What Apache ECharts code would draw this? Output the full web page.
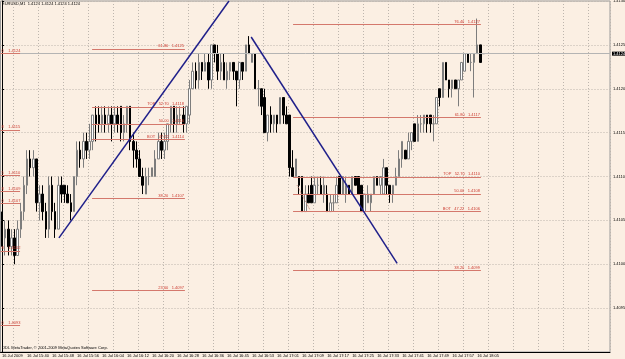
<!DOCTYPE html>
<html>
<head>
<meta charset="utf-8">
<script src="https://cdn.jsdelivr.net/npm/echarts@6/dist/echarts.min.js"></script>
<style>
html, body { margin: 0; padding: 0; background: #fbefe3; }
#chart { width: 625px; height: 359px; }
</style>
</head>
<body>
<div id="chart"></div>
<script>
// EURUSD M1, 16 Jul 2009 -- each bar is [open, close, low, high]
var bars = [
  [1.4105,1.4103,1.4102,1.4106],[1.4103,1.4104,1.4101,1.4105],[1.4104,1.4102,1.4101,1.4105],[1.4102,1.4103,1.4101,1.4104],
  [1.4103,1.4101,1.4100,1.4104],[1.4101,1.4104,1.4101,1.4105],[1.4104,1.4106,1.4103,1.4107],[1.4106,1.4109,1.4105,1.4110],
  [1.4109,1.4112,1.4108,1.4113],[1.4112,1.4111,1.4110,1.4113],[1.4111,1.4112,1.4110,1.4113],[1.4112,1.4107,1.4106,1.4112],
  [1.4107,1.4108,1.4105,1.4109],[1.4108,1.4106,1.4105,1.4109],[1.4106,1.4104,1.4103,1.4107],[1.4104,1.4109,1.4103,1.4110],
  [1.4109,1.4106,1.4105,1.4110],[1.4106,1.4104,1.4103,1.4107],[1.4104,1.4109,1.4104,1.4110],[1.4109,1.4108,1.4107,1.4110],
  [1.4109,1.4108,1.4107,1.4109],[1.4108,1.4107,1.4107,1.4109],[1.4107,1.4106,1.4105,1.4108],[1.4106,1.4110,1.4106,1.4110],
  [1.4110,1.4113,1.4109,1.4114],[1.4113,1.4112,1.4111,1.4114],[1.4112,1.4114,1.4111,1.4115],[1.4114,1.4113,1.4112,1.4115],
  [1.4113,1.4114,1.4112,1.4116],[1.4114,1.4117,1.4113,1.4117],[1.4117,1.4116,1.4114,1.4118],[1.4117,1.4116,1.4115,1.4118],
  [1.4116,1.4117,1.4115,1.4118],[1.4117,1.4116,1.4115,1.4118],[1.4116,1.4117,1.4115,1.4118],[1.4117,1.4116,1.4114,1.4118],
  [1.4116,1.4117,1.4115,1.4118],[1.4117,1.4116,1.4115,1.4118],[1.4118,1.4115,1.4114,1.4118],[1.4115,1.4116,1.4114,1.4117],
  [1.4116,1.4118,1.4115,1.4118],[1.4118,1.4114,1.4113,1.4118],[1.4114,1.4113,1.4111,1.4115],[1.4113,1.4112,1.4111,1.4114],
  [1.4112,1.4110,1.4110,1.4113],[1.4110,1.4109,1.4108,1.4111],[1.4108,1.4110,1.4108,1.4111],[1.4110,1.4110,1.4109,1.4111],
  [1.4110,1.4111,1.4110,1.4111],[1.4110,1.4112,1.4110,1.4113],[1.4112,1.4114,1.4112,1.4115],[1.4114,1.4113,1.4112,1.4115],
  [1.4113,1.4114,1.4112,1.4115],[1.4114,1.4116,1.4113,1.4116],[1.4116,1.4118,1.4115,1.4118],[1.4118,1.4116,1.4115,1.4118],
  [1.4116,1.4117,1.4115,1.4118],[1.4117,1.4117,1.4116,1.4118],[1.4117,1.4116,1.4115,1.4118],[1.4116,1.4118,1.4115,1.4118],
  [1.4117,1.4120,1.4116,1.4121],[1.4120,1.4122,1.4120,1.4123],[1.4122,1.4121,1.4120,1.4123],[1.4121,1.4123,1.4120,1.4124],
  [1.4123,1.4122,1.4121,1.4123],[1.4122,1.4123,1.4122,1.4124],[1.4123,1.4121,1.4120,1.4124],[1.4121,1.4125,1.4120,1.4125],
  [1.4125,1.4124,1.4123,1.4125],[1.4124,1.4122,1.4121,1.4125],[1.4122,1.4123,1.4121,1.4124],[1.4123,1.4121,1.4121,1.4124],
  [1.4121,1.4122,1.4120,1.4123],[1.4122,1.4123,1.4121,1.4123],[1.4123,1.4122,1.4121,1.4123],[1.4122,1.4121,1.4118,1.4122],
  [1.4121,1.4123,1.4120,1.4123],[1.4123,1.4122,1.4121,1.4123],[1.4122,1.4125,1.4122,1.4125],[1.4125,1.4124,1.4124,1.4126],
  [1.4123,1.4124,1.4123,1.4124],[1.4124,1.4120,1.4120,1.4124],[1.4120,1.4120,1.4118,1.4121],[1.4120,1.4118,1.4117,1.4120],
  [1.4119,1.4115,1.4115,1.4120],[1.4115,1.4117,1.4114,1.4117],[1.4117,1.4116,1.4115,1.4118],[1.4116,1.4117,1.4115,1.4117],
  [1.4117,1.4116,1.4115,1.4117],[1.4116,1.4119,1.4116,1.4119],[1.4119,1.4117,1.4116,1.4119],[1.4117,1.4116,1.4116,1.4118],
  [1.4117,1.4111,1.4110,1.4117],[1.4111,1.4110,1.4110,1.4113],[1.4110,1.4112,1.4110,1.4112],[1.4110,1.4109,1.4108,1.4110],
  [1.4110,1.4106,1.4106,1.4110],[1.4106,1.4108,1.4106,1.4109],[1.4108,1.4107,1.4107,1.4109],[1.4109,1.4107,1.4107,1.4110],
  [1.4107,1.4109,1.4107,1.4110],[1.4109,1.4109,1.4108,1.4110],[1.4109,1.4108,1.4108,1.4110],[1.4108,1.4109,1.4107,1.4110],
  [1.4108,1.4106,1.4106,1.4109],[1.4106,1.4107,1.4106,1.4108],[1.4107,1.4107,1.4106,1.4108],[1.4107,1.4109,1.4107,1.4110],
  [1.4110,1.4108,1.4108,1.4110],[1.4108,1.4110,1.4108,1.4110],[1.4108,1.4109,1.4107,1.4110],[1.4109,1.4108,1.4108,1.4109],
  [1.4108,1.4110,1.4108,1.4110],[1.4110,1.4109,1.4109,1.4110],[1.4110,1.4108,1.4108,1.4110],[1.4109,1.4106,1.4106,1.4109],
  [1.4106,1.4108,1.4106,1.4108],[1.4107,1.4108,1.4107,1.4109],[1.4107,1.4108,1.4106,1.4108],[1.4108,1.4110,1.4108,1.4110],
  [1.4110,1.4109,1.4109,1.4110],[1.4109,1.4110,1.4108,1.4110],[1.4108,1.4111,1.4108,1.4112],[1.4111,1.4109,1.4108,1.4111],
  [1.4109,1.4108,1.4107,1.4109],[1.4108,1.4109,1.4107,1.4109],[1.4109,1.4110,1.4109,1.4111],[1.4110,1.4112,1.4110,1.4113],
  [1.4112,1.4114,1.4111,1.4114],[1.4113,1.4112,1.4112,1.4113],[1.4112,1.4114,1.4112,1.4115],[1.4114,1.4115,1.4113,1.4115],
  [1.4116,1.4114,1.4114,1.4116],[1.4114,1.4116,1.4114,1.4117],[1.4116,1.4116,1.4115,1.4117],[1.4116,1.4117,1.4115,1.4117],
  [1.4117,1.4116,1.4115,1.4117],[1.4117,1.4116,1.4115,1.4117],[1.4116,1.4116,1.4114,1.4117],[1.4116,1.4119,1.4116,1.4119],
  [1.4120,1.4119,1.4118,1.4120],[1.4119,1.4123,1.4119,1.4123],[1.4123,1.4121,1.4121,1.4123],[1.4121,1.4120,1.4119,1.4121],
  [1.4120,1.4121,1.4119,1.4121],[1.4121,1.4120,1.4120,1.4121],[1.4120,1.4121,1.4118,1.4121],[1.4121,1.4123,1.4121,1.4123],
  [1.4122,1.4124,1.4122,1.4124],[1.4124,1.4123,1.4123,1.4124],[1.4123,1.4123,1.4122,1.4124],[1.4123,1.4124,1.4119,1.4124],
  [1.4124,1.4125,1.4124,1.4128],[1.4125,1.4123,1.4123,1.4125],[1.4124,1.4124,1.4124,1.4124]
];

// one label every 8 bars
var tickLabels = ["16 Jul 2009", "16 Jul 15:40", "16 Jul 15:48", "16 Jul 15:56", "16 Jul 16:04",
  "16 Jul 16:12", "16 Jul 16:20", "16 Jul 16:28", "16 Jul 16:36", "16 Jul 16:45", "16 Jul 16:53",
  "16 Jul 17:01", "16 Jul 17:09", "16 Jul 17:17", "16 Jul 17:25", "16 Jul 17:33", "16 Jul 17:41",
  "16 Jul 17:49", "16 Jul 17:57", "16 Jul 18:05"];

var slots = 195;          // bars + empty room on the right
var lastPrice = 1.4124;

// trend lines: [bar position, price] pairs
var trendUp = [[18.2, 1.4103], [72.6, 1.4130]];
var trendDown = [[79.7, 1.41259], [126.4, 1.41001]];
var fiboDiag = [[94.4, 1.41090], [98.5, 1.41062]];

// fibonacci levels: [price, text]
var fiboLeft = [[1.41240, "0    1.4124"], [1.41153, "8    1.4115"], [1.41101, "5    1.4110"],
  [1.41083, "8    1.4109"], [1.41069, "0    1.4107"], [1.41015, "8    1.4102"], [1.40930, "0    1.4093"]];
var fiboLeftSpan = [-0.5, 5.75];
var fiboMid = [[1.41245, "61.80   1.4125"], [1.41179, "TOP   52.70   1.4118"], [1.41160, "50.00   1.4116"],
  [1.41142, "BOT   47.22   1.4114"], [1.41075, "38.20   1.4107"], [1.40970, "23.60   1.4097"]];
var fiboMidSpan = [28.8, 58.5];
var fiboRight = [[1.41273, "76.40   1.4127"], [1.41167, "61.80   1.4117"], [1.41099, "TOP   52.70   1.4110"],
  [1.41080, "50.00   1.4108"], [1.41060, "BOT   47.22   1.4106"], [1.40993, "38.20   1.4099"]];
var fiboRightSpan = [93.1, 153.2];

var FONT = "Liberation Sans";
var slotIdx = [];
for (var i = 0; i < slots; i++) slotIdx.push(i);

function fiboSeries(levels, span, pos) {
  return {
    type: "line",
    xAxisIndex: 1,
    data: [],
    silent: true,
    markLine: {
      silent: true,
      animation: false,
      precision: 5,
      symbol: ["none", "none"],
      lineStyle: { color: "#d4786c", width: 1, type: "solid" },
      label: { show: true, position: pos, fontSize: 4, fontFamily: FONT, color: "#cc3b30", distance: 1 },
      data: levels.map(function (l) {
        return [{ coord: [span[0], l[0]], label: { formatter: l[1] } }, { coord: [span[1], l[0]] }];
      })
    }
  };
}

function trendSeries(pts, color, width, type) {
  return {
    type: "line",
    xAxisIndex: 1,
    data: pts,
    symbol: "none",
    silent: true,
    z: 5,
    lineStyle: { color: color, width: width, type: type }
  };
}

var chart = echarts.init(document.getElementById("chart"));
var option = {
  backgroundColor: "#fbefe3",
  animation: false,
  textStyle: { fontFamily: FONT },
  grid: {
    left: 0.5, right: 15, top: 1, bottom: 7,
    show: true, borderColor: "#9a9a9a", borderWidth: 1,
    containLabel: false, outerBoundsMode: "none"
  },
  graphic: [
    { type: "text", left: 2, top: 2, style: { text: "EURUSD,M1  1.4124 1.4124 1.4124 1.4124", fontSize: 4, fontFamily: FONT, fill: "#000" } },
    { type: "text", left: 2, top: 346, style: { text: "ODL MetaTrader, \u00a9 2001-2009 MetaQuotes Software Corp.", fontSize: 4, fontFamily: FONT, fill: "#000" } }
  ],
  xAxis: [
    {
      type: "category",
      data: slotIdx,
      boundaryGap: true,
      axisLine: { show: true, lineStyle: { color: "#000", width: 1 } },
      axisTick: { show: false },
      axisLabel: {
        interval: function (i) { return i % 8 === 0 && i / 8 < tickLabels.length; },
        formatter: function (v, i) { return tickLabels[i / 8] || ""; },
        align: "left", fontSize: 4, fontFamily: FONT, color: "#000", margin: 2
      },
      splitLine: {
        show: true,
        interval: function (i) { return i % 8 === 4; },
        lineStyle: { color: "#bdb5ad", width: 1, type: [1, 2] }
      }
    },
    { type: "value", show: false, min: -0.5, max: slots - 0.5 }
  ],
  yAxis: {
    type: "value",
    position: "right",
    min: 1.4090, max: 1.4130, interval: 0.0005,
    axisLine: { show: true, lineStyle: { color: "#000", width: 1 } },
    axisTick: { show: true, length: 2, lineStyle: { color: "#000" } },
    axisLabel: {
      fontSize: 4, fontFamily: FONT, color: "#000", margin: 3,
      formatter: function (v) { return v < 1.40905 ? "" : v.toFixed(4); }
    },
    splitLine: { show: true, lineStyle: { color: "#bdb5ad", width: 1, type: [1, 2] } }
  },
  series: [
    {
      type: "candlestick",
      data: bars,
      barWidth: 2,
      itemStyle: {
        color: "#ffffff", color0: "#000000",
        borderColor: "#7d7d7d", borderColor0: "#000000", borderWidth: 1
      },
      markLine: {
        silent: true,
        animation: false,
        precision: 4,
        symbol: ["none", "none"],
        lineStyle: { color: "#b4b4b4", width: 1, type: "solid" },
        label: {
          show: true, position: "end", formatter: lastPrice.toFixed(4), fontSize: 4, fontFamily: FONT,
          color: "#fff", backgroundColor: "#000", padding: [0, 1], distance: 2
        },
        data: [{ yAxis: lastPrice }]
      }
    },
    fiboSeries(fiboLeft, fiboLeftSpan, "insideStartTop"),
    fiboSeries(fiboMid, fiboMidSpan, "insideEndTop"),
    fiboSeries(fiboRight, fiboRightSpan, "insideEndTop"),
    trendSeries(fiboDiag, "#c07868", 1, "dotted"),
    trendSeries(trendUp, "#1f1f8a", 1.5, "solid"),
    trendSeries(trendDown, "#1f1f8a", 1.5, "solid")
  ]
};
chart.setOption(option);
</script>
</body>
</html>
